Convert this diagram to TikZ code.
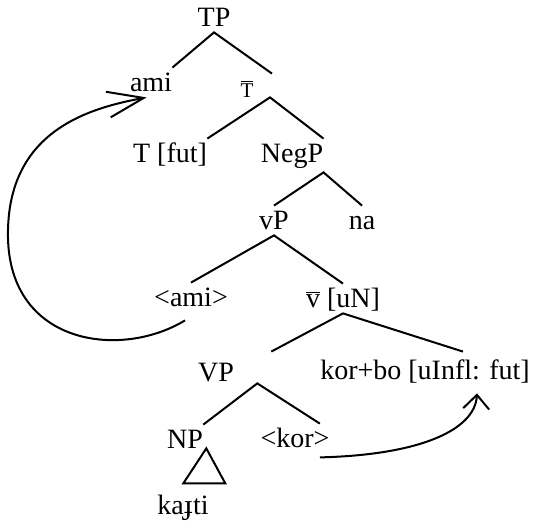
\documentclass[tikz,border=0pt]{standalone}
\usepackage{fontspec}
\setmainfont{Liberation Serif}
\usetikzlibrary{arrows.meta,calc}

\begin{document}
\begin{tikzpicture}[x=0.5pt,y=-0.5pt,
  cat/.style={anchor=base,inner xsep=0pt,inner ysep=2.5pt,text height=9.5pt,text depth=0pt,font=\fontsize{14}{16}\selectfont},
  branch/.style={line width=1pt},
  move/.style={line width=1pt}]
\useasboundingbox (0,0) rectangle (536,522);
% labels of the tree
\node[cat] (TP) at (214,27) {TP};
\node[cat] (ami) at (151,92) {ami};
\node[cat] (Tbar) at (247,98) {\fontsize{10.5}{12}\selectfont$\overline{\mbox{T}}$};
\node[cat] (Tfut) at (170,163) {T [fut]};
\node[cat] (NegP) at (292,163) {NegP};
\node[cat] (vP) at (274,230) {vP};
\node[cat] (na) at (362,230) {na};
\node[cat] (amitr) at (191,307) {<ami>};
\node[cat] (vbar) at (343,308) {$\overline{\mbox{v}}$ [uN]};
\node[cat] (VP) at (216,382) {VP};
\node[cat] (korbo) at (425,380) {kor+bo [uInfl: fut]};
\node[cat] (NP) at (185,449) {NP};
\node[cat] (kortr) at (295,448) {<kor>};
\node[cat] (kajti) at (183,515) {kaɟti};
% branches
\draw[branch] (ami.north east) -- (TP.south) -- ($(Tbar.north)+(25,0)$);
\draw[branch] (Tfut.north east) -- ($(Tbar.south)+(23,-6)$) -- (NegP.north east);
\draw[branch] (vP.north) -- ($(NegP.south east)+(0,4)$) -- (na.north);
\draw[branch] (amitr.north) -- (vP.south) -- (vbar.north);
\draw[branch] ($(VP.north east)+(37,-6)$) -- (vbar.south) -- ($(korbo.north)+(38,-4)$);
\draw[branch] (NP.north east) -- ($(VP.south east)+(23,-4)$) -- ($(kortr.north east)+(-10,0)$);
\draw[branch] ($(NP.south east)+(3,-6)$) -- ++(-23,35) -- ++(42,0) -- cycle;
% movement
\draw[move,-{Straight Barb[length=18pt,width=13pt]}] ($(amitr.south)+(-6,8)$)
  .. controls (120,360) and (5,345) .. (8,230)
  .. controls (10,130) and (90,108) .. ($(ami.south west)+(17,0)$);
\draw[move,-{Straight Barb[length=7pt,width=13pt]}] ($(kortr.south east)+(-10,4)$)
  .. controls (420,455) and (475,430) .. ($(korbo.south)+(52,8)$);
\end{tikzpicture}
\end{document}
